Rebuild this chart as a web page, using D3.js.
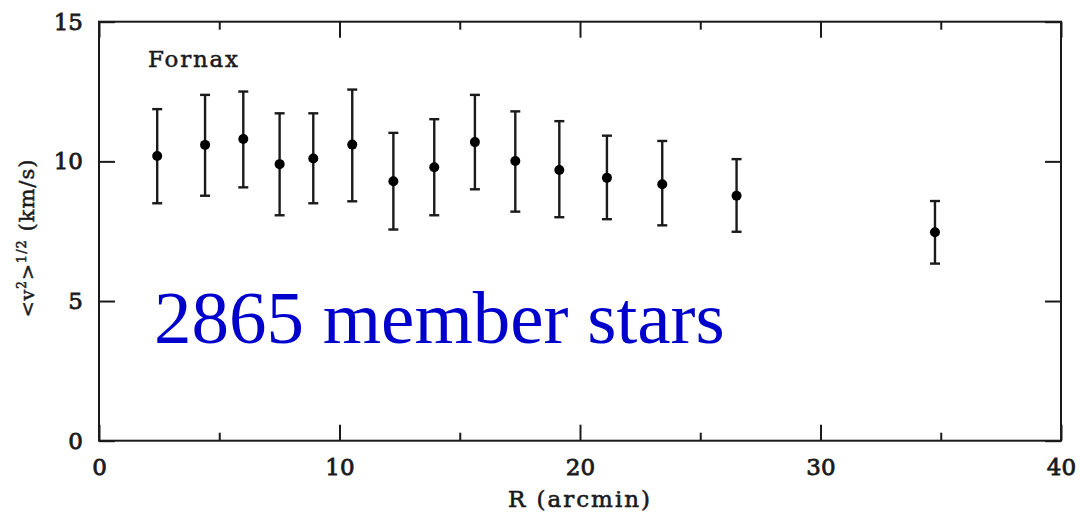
<!DOCTYPE html>
<html>
<head>
<meta charset="utf-8">
<script src="https://cdn.jsdelivr.net/npm/d3@7"></script>
<style>
  html, body { margin: 0; padding: 0; background: #fff; }
  svg { display: block; }
</style>
</head>
<body>
<div id="chart"></div>
<script>
// Fornax dSph velocity dispersion profile
const radius   = [2.42, 4.41, 6.0, 7.51, 8.91, 10.53, 12.24, 13.94, 15.63, 17.31, 19.14, 21.12, 23.42, 26.51, 34.76];
const sigma    = [10.19, 10.59, 10.80, 9.90, 10.10, 10.60, 9.29, 9.79, 10.69, 10.01, 9.69, 9.41, 9.18, 8.77, 7.46];
const sigmaLo  = [8.50, 8.77, 9.07, 8.07, 8.50, 8.57, 7.56, 8.07, 9.00, 8.20, 8.00, 7.93, 7.71, 7.48, 6.34];
const sigmaHi  = [11.87, 12.38, 12.50, 11.72, 11.72, 12.57, 11.02, 11.51, 12.38, 11.79, 11.44, 10.92, 10.73, 10.08, 8.58];
const xMajor   = [0, 10, 20, 30, 40];
const xMinor   = [5, 15, 25, 35];
const yMajor   = [0, 5, 10, 15];

const W = 1082, H = 512;
const plotL = 99, plotR = 1061, plotT = 21.7, plotB = 440.7;
const ink = "#1a1a1a";
const labelFont = "'DejaVu Serif', serif";

const svg = d3.select("#chart").append("svg")
  .attr("width", W).attr("height", H);

const x = d3.scaleLinear().domain([0, 40]).range([plotL, plotR]);
const y = d3.scaleLinear().domain([0, 15]).range([plotB, plotT]);

// heavier stroked lettering for the plot labels
function heavy(sel, w = 0.8) {
  return sel.attr("fill", ink).attr("stroke", ink).attr("stroke-width", w)
    .attr("font-family", labelFont);
}

function styleAxis(g) {
  g.select(".domain").remove();
  g.selectAll(".tick line").attr("stroke", ink).attr("stroke-width", 2);
  g.selectAll("text").call(heavy).attr("font-size", 23);
}

// bottom axis: labelled major ticks pointing inward
svg.append("g").attr("transform", `translate(0,${plotB})`)
  .call(d3.axisBottom(x).tickValues(xMajor).tickSize(-16).tickPadding(18).tickFormat(d3.format("d")))
  .call(styleAxis);
svg.append("g").attr("transform", `translate(0,${plotB})`)
  .call(d3.axisBottom(x).tickValues(xMinor).tickSize(-8).tickFormat(""))
  .call(styleAxis);
// top axis
svg.append("g").attr("transform", `translate(0,${plotT})`)
  .call(d3.axisTop(x).tickValues(xMajor).tickSize(-16).tickFormat(""))
  .call(styleAxis);
svg.append("g").attr("transform", `translate(0,${plotT})`)
  .call(d3.axisTop(x).tickValues(xMinor).tickSize(-8).tickFormat(""))
  .call(styleAxis);
// left axis
svg.append("g").attr("transform", `translate(${plotL},0)`)
  .call(d3.axisLeft(y).tickValues(yMajor).tickSize(-16).tickPadding(16).tickFormat(d3.format("d")))
  .call(styleAxis);
// right axis
svg.append("g").attr("transform", `translate(${plotR},0)`)
  .call(d3.axisRight(y).tickValues(yMajor).tickSize(-16).tickFormat(""))
  .call(styleAxis);

// frame
svg.append("rect")
  .attr("x", plotL).attr("y", plotT)
  .attr("width", plotR - plotL).attr("height", plotB - plotT)
  .attr("fill", "none").attr("stroke", ink).attr("stroke-width", 2);

// error bars
const pts = radius.map((r, i) => ({ r, s: sigma[i], lo: sigmaLo[i], hi: sigmaHi[i] }));
const cap = 5;
const bars = svg.append("g").attr("stroke", ink).attr("stroke-width", 2.4);
bars.selectAll("line.v").data(pts).join("line").attr("class", "v")
  .attr("x1", d => x(d.r)).attr("x2", d => x(d.r))
  .attr("y1", d => y(d.lo)).attr("y2", d => y(d.hi));
bars.selectAll("line.hi").data(pts).join("line").attr("class", "hi")
  .attr("x1", d => x(d.r) - cap).attr("x2", d => x(d.r) + cap)
  .attr("y1", d => y(d.hi)).attr("y2", d => y(d.hi));
bars.selectAll("line.lo").data(pts).join("line").attr("class", "lo")
  .attr("x1", d => x(d.r) - cap).attr("x2", d => x(d.r) + cap)
  .attr("y1", d => y(d.lo)).attr("y2", d => y(d.lo));

// points
svg.append("g").selectAll("circle").data(pts).join("circle")
  .attr("cx", d => x(d.r)).attr("cy", d => y(d.s)).attr("r", 5)
  .attr("fill", "#000");

// panel label
svg.append("text")
  .attr("x", 148).attr("y", 67)
  .call(heavy, 0.5)
  .attr("font-size", 23).attr("letter-spacing", 1.8)
  .text("Fornax");

// axis titles
svg.append("text")
  .attr("x", 580).attr("y", 507).attr("text-anchor", "middle")
  .call(heavy, 0.6)
  .attr("font-size", 23).attr("letter-spacing", 2)
  .text("R (arcmin)");

const yt = svg.append("text")
  .attr("transform", "translate(34,238) rotate(-90)")
  .attr("text-anchor", "middle")
  .call(heavy, 0.5)
  .attr("font-size", 19).attr("letter-spacing", 1);
yt.append("tspan").text("<v");
yt.append("tspan").attr("font-size", 12).attr("dy", -8).text("2");
yt.append("tspan").attr("dy", 8).text(">");
yt.append("tspan").attr("font-size", 13).attr("dy", -8).text("1/2");
yt.append("tspan").attr("dy", 8).attr("font-size", 21).text(" (km/s)");

// annotation
svg.append("text")
  .attr("x", 154).attr("y", 343)
  .attr("font-family", "'Liberation Serif', 'Times New Roman', serif")
  .attr("font-size", 75).attr("fill", "#0000cc")
  .text("2865 member stars");
</script>
</body>
</html>
